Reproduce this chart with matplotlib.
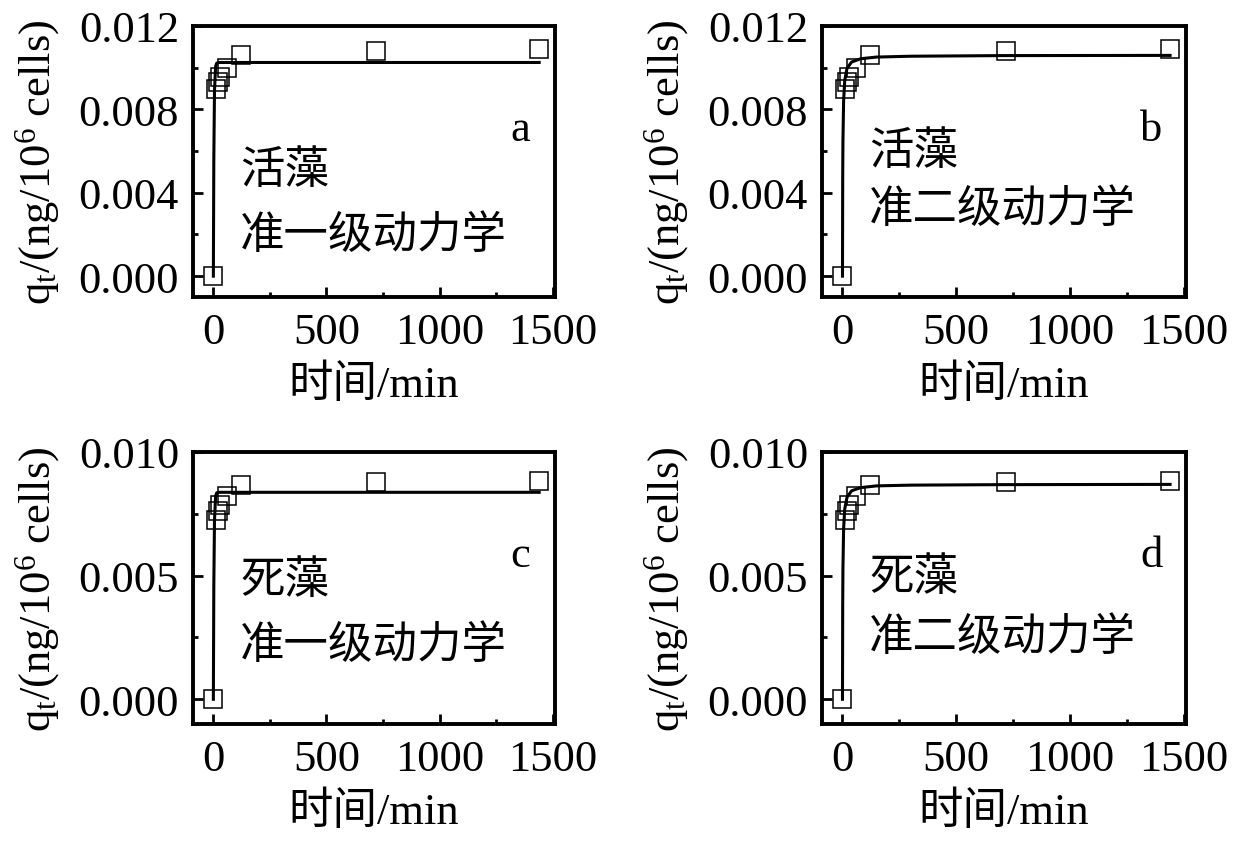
import matplotlib
matplotlib.use('Agg')
import matplotlib.pyplot as plt
from matplotlib.ticker import MultipleLocator

plt.rcParams['font.family'] = ['Liberation Serif', 'Noto Sans CJK SC']
plt.rcParams['mathtext.fontset'] = 'custom'
plt.rcParams['mathtext.rm'] = 'Liberation Serif'
plt.rcParams['mathtext.it'] = 'Liberation Serif:italic'

# measured data (min, ng/10^6 cells)
time = [0, 10, 20, 30, 60, 120, 720, 1440]
live_q = [0, 0.0090, 0.0093, 0.00953, 0.0100, 0.01063, 0.0108, 0.0109]
dead_q = [0, 0.00724, 0.0076, 0.00785, 0.00821, 0.00866, 0.00878, 0.00882]

# fitted curves
fit_t_pfo = [0, 2, 5, 10, 15, 25, 1440]
live_pfo = [0, 0.0056, 0.0089, 0.01007, 0.01022, 0.01025, 0.01025]
dead_pfo = [0, 0.0046, 0.00724, 0.00822, 0.00835, 0.00837, 0.00837]
fit_t_pso = [0, 1, 2, 5, 10, 20, 40, 80, 150, 300, 700, 1440]
live_pso = [0, 0.00465, 0.00643, 0.00842, 0.00939, 0.00997, 0.01027, 0.01043,
            0.01051, 0.01055, 0.01058, 0.01059]
dead_pso = [0, 0.00378, 0.00527, 0.00691, 0.0077, 0.00817, 0.00843, 0.00856,
            0.00863, 0.00866, 0.00868, 0.00869]

panels = [
    # letter, q, fit_t, fit_q, state, model, ylim, major, minor, text y
    ('a', live_q, fit_t_pfo, live_pfo, '活藻', '准一级动力学', (-0.001, 0.012), 0.004, 0.002, (0.47, 0.23)),
    ('b', live_q, fit_t_pso, live_pso, '活藻', '准二级动力学', (-0.001, 0.012), 0.004, 0.002, (0.54, 0.325)),
    ('c', dead_q, fit_t_pfo, dead_pfo, '死藻', '准一级动力学', (-0.001, 0.010), 0.005, 0.0025, (0.53, 0.29)),
    ('d', dead_q, fit_t_pso, dead_pso, '死藻', '准二级动力学', (-0.001, 0.010), 0.005, 0.0025, (0.54, 0.32)),
]

W, H = 1244, 854
boxes = [(193, 27, 555, 298), (822, 27, 1186, 298),
         (193, 453, 555, 725), (822, 453, 1186, 725)]

fig = plt.figure(figsize=(W / 100, H / 100), dpi=100)

for (letter, q, ft, fq, state, model, ylim, major, minor, ty), (x0, y0, x1, y1) in zip(panels, boxes):
    ax = fig.add_axes([x0 / W, 1 - y1 / H, (x1 - x0) / W, (y1 - y0) / H])
    ax.plot(ft, fq, color='black', lw=2.2, zorder=2)
    ax.plot(time, q, linestyle='none', marker='s', markersize=13,
            markerfacecolor='none', markeredgecolor='black', markeredgewidth=1.1, zorder=3)

    ax.set_xlim(-90, 1510)
    ax.set_ylim(*ylim)
    ax.xaxis.set_major_locator(MultipleLocator(500))
    ax.xaxis.set_minor_locator(MultipleLocator(250))
    ax.yaxis.set_major_locator(MultipleLocator(major))
    ax.yaxis.set_minor_locator(MultipleLocator(minor))
    ax.yaxis.set_major_formatter(plt.FormatStrFormatter('%.3f'))
    ax.tick_params(which='both', direction='in', top=False, right=False, width=2)
    ax.tick_params(which='major', length=7, labelsize=32)
    ax.tick_params(axis='x', which='major', pad=11)
    ax.tick_params(axis='y', which='major', pad=10)
    ax.tick_params(which='minor', length=3.5)
    for s in ax.spines.values():
        s.set_linewidth(2.8)

    ax.set_xlabel('时间/min', fontsize=32, labelpad=8)
    ax.set_ylabel(r'q$_\mathrm{t}$/(ng/10$^6$ cells)', fontsize=32, labelpad=12)

    ax.text(0.13, ty[0], state, transform=ax.transAxes, fontsize=32, va='center', ha='left')
    ax.text(0.13, ty[1], model, transform=ax.transAxes, fontsize=32, va='center', ha='left')
    ax.text(0.905, 0.62, letter, transform=ax.transAxes, fontsize=32, va='center', ha='center')

plt.savefig('out.png', dpi=100)
plt.close()
